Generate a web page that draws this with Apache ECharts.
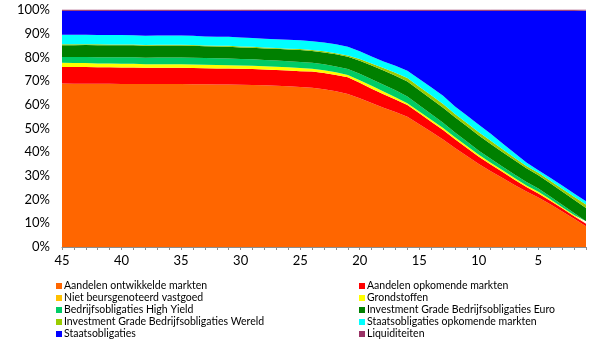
<!DOCTYPE html>
<html>
<head>
<meta charset="utf-8">
<script src="https://cdn.jsdelivr.net/npm/echarts@6/dist/echarts.min.js"></script>
<style>
  html, body { margin: 0; padding: 0; background: #fff; }
  #chart { width: 605px; height: 344px; }
</style>
</head>
<body>
<div id="chart"></div>
<script>
// Years until retirement, from 45 down to 1
const years = [45,44,43,42,41,40,39,38,37,36,35,34,33,32,31,30,29,28,27,26,25,24,23,22,21,20,19,18,17,16,15,14,13,12,11,10,9,8,7,6,5,4,3,2,1];

// Allocation per asset class, in percent of the portfolio
const aandelenOntwikkeld = [69.0,68.9,68.9,68.9,68.9,68.8,68.8,68.8,68.8,68.8,68.8,68.7,68.7,68.6,68.6,68.5,68.4,68.2,68.0,67.8,67.5,67.2,66.6,65.7,64.6,62.8,60.8,58.8,57.0,55.0,51.8,48.6,45.4,41.8,38.4,35.0,32.0,29.1,26.2,23.4,20.9,18.0,15.0,11.9,8.8];
const aandelenOpkomend = [7.0,7.0,7.0,6.9,6.9,6.9,6.9,6.8,6.8,6.8,6.8,6.8,6.7,6.7,6.7,6.7,6.7,6.7,6.7,6.7,6.7,6.8,6.8,6.9,7.0,6.5,6.0,5.6,5.2,4.9,4.6,4.3,4.0,3.7,3.4,3.1,2.8,2.5,2.2,1.9,1.7,1.5,1.3,1.1,1.0];
const vastgoed = [0,0,0,0,0,0,0,0,0,0,0,0,0,0,0,0,0,0,0,0,0,0,0,0,0,0,0,0,0,0,0,0,0,0,0,0,0,0,0,0,0,0,0,0,0];
const grondstoffen = [1.7,1.7,1.7,1.6,1.6,1.6,1.6,1.5,1.5,1.5,1.5,1.5,1.5,1.5,1.4,1.4,1.4,1.4,1.4,1.3,1.3,1.2,1.2,1.1,1.0,1.1,1.2,1.2,1.0,0.8,0.8,0.8,0.8,0.8,0.8,0.8,0.8,0.8,0.7,0.7,0.7,0.6,0.5,0.5,0.4];
const highYield = [2.5,2.6,2.6,2.7,2.7,2.8,2.8,2.8,2.9,2.9,2.9,2.9,2.8,2.8,2.8,2.7,2.7,2.6,2.6,2.6,2.6,2.5,2.5,2.5,2.5,2.7,2.8,2.9,2.9,2.8,2.6,2.4,2.2,2.0,1.9,1.7,1.6,1.5,1.5,1.4,1.4,1.2,1.0,0.8,0.7];
const igEuro = [4.9,4.9,5.0,5.0,5.0,5.0,5.0,5.0,5.0,5.0,5.0,5.0,5.0,5.0,5.0,4.9,4.9,4.9,4.9,4.9,5.0,5.0,5.0,5.1,5.2,5.5,5.8,6.0,6.2,6.3,6.3,6.4,6.4,6.4,6.4,6.4,6.3,6.1,6.0,5.8,5.6,5.6,5.6,5.6,5.6];
const igWereld = [0.4,0.4,0.4,0.4,0.3,0.3,0.3,0.3,0.3,0.3,0.3,0.3,0.3,0.3,0.4,0.4,0.4,0.4,0.4,0.4,0.4,0.4,0.5,0.5,0.5,0.7,0.8,1.0,1.2,1.5,1.5,1.5,1.5,1.4,1.4,1.4,1.3,1.2,1.1,1.0,1.0,1.1,1.2,1.3,1.4];
const staatsOpkomend = [4.1,4.1,4.0,4.0,4.0,4.0,3.9,3.9,3.9,3.9,3.9,3.9,3.8,3.8,3.8,3.8,3.7,3.7,3.7,3.7,3.7,3.7,3.7,3.7,3.7,3.3,3.0,2.8,3.0,3.1,3.3,3.4,3.5,3.2,3.2,3.2,3.0,2.5,2.0,1.5,1.1,1.2,1.3,1.4,1.4];
const staatsobligaties = [10.1,10.1,10.1,10.2,10.3,10.3,10.4,10.6,10.5,10.5,10.5,10.6,10.9,11.0,11.0,11.3,11.5,11.8,12.0,12.3,12.5,12.9,13.4,14.2,15.2,17.1,19.3,21.4,23.2,25.3,28.8,32.3,35.9,40.4,44.2,48.1,51.9,56.0,60.0,64.0,67.3,70.5,73.8,77.1,80.4];
const liquiditeiten = [0.3,0.3,0.3,0.3,0.3,0.3,0.3,0.3,0.3,0.3,0.3,0.3,0.3,0.3,0.3,0.3,0.3,0.3,0.3,0.3,0.3,0.3,0.3,0.3,0.3,0.3,0.3,0.3,0.3,0.3,0.3,0.3,0.3,0.3,0.3,0.3,0.3,0.3,0.3,0.3,0.3,0.3,0.3,0.3,0.3];

const yTicks = [0,10,20,30,40,50,60,70,80,90,100];

const assets = [
  { name: 'Aandelen ontwikkelde markten', data: aandelenOntwikkeld, color: '#FF6600' },
  { name: 'Aandelen opkomende markten', data: aandelenOpkomend, color: '#FF0000' },
  { name: 'Niet beursgenoteerd vastgoed', data: vastgoed, color: '#FFC000' },
  { name: 'Grondstoffen', data: grondstoffen, color: '#FFFF00' },
  { name: 'Bedrijfsobligaties High Yield', data: highYield, color: '#00CC66' },
  { name: 'Investment Grade Bedrijfsobligaties Euro', data: igEuro, color: '#008000' },
  { name: 'Investment Grade Bedrijfsobligaties Wereld', data: igWereld, color: '#99CC00' },
  { name: 'Staatsobligaties opkomende markten', data: staatsOpkomend, color: '#00FFFF' },
  { name: 'Staatsobligaties', data: staatsobligaties, color: '#0000FF' },
  { name: 'Liquiditeiten', data: liquiditeiten, color: '#993366' }
];

const font = 'Lato, "DejaVu Sans", sans-serif';

// Two legend columns, filled row by row
const legendBase = {
  orient: 'vertical',
  top: 275,
  height: 64,
  itemWidth: 6,
  itemHeight: 6,
  itemGap: 0,
  icon: 'rect',
  selectedMode: false,
  textStyle: { fontFamily: font, fontSize: 10.5, color: '#000', lineHeight: 12, height: 12, padding: [0, 0, 0, -3] }
};

const chart = echarts.init(document.getElementById('chart'), null, { renderer: 'canvas' });
chart.setOption({
  animation: false,
  backgroundColor: '#fff',
  grid: { left: 62, right: 19, top: 10, bottom: 97, containLabel: false },
  legend: [
    Object.assign({}, legendBase, { left: 51, data: assets.filter((a, i) => i % 2 === 0).map(a => a.name) }),
    Object.assign({}, legendBase, { left: 354, data: assets.filter((a, i) => i % 2 === 1).map(a => a.name) })
  ],
  xAxis: {
    type: 'category',
    data: years,
    boundaryGap: false,
    axisLine: { lineStyle: { color: '#8c8c8c', width: 1 } },
    axisTick: { show: true, interval: 0, length: 3, lineStyle: { color: '#8c8c8c' } },
    axisLabel: { interval: 4, color: '#000', fontFamily: font, fontSize: 13, margin: 7 },
    splitLine: { show: false }
  },
  yAxis: {
    type: 'value',
    min: yTicks[0],
    max: yTicks[yTicks.length - 1],
    interval: 10,
    axisLine: { show: false },
    axisTick: { show: false },
    splitLine: { show: false },
    axisLabel: { formatter: '{value}%', color: '#000', fontFamily: font, fontSize: 13, margin: 12 }
  },
  series: assets.map((a) => ({
    name: a.name,
    type: 'line',
    stack: 'total',
    data: a.data,
    symbol: 'none',
    color: a.color,
    lineStyle: { width: a.name === 'Liquiditeiten' ? 1 : 0, color: a.color },
    areaStyle: { color: a.color, opacity: 1 },
    z: 2
  }))
});
</script>
</body>
</html>
